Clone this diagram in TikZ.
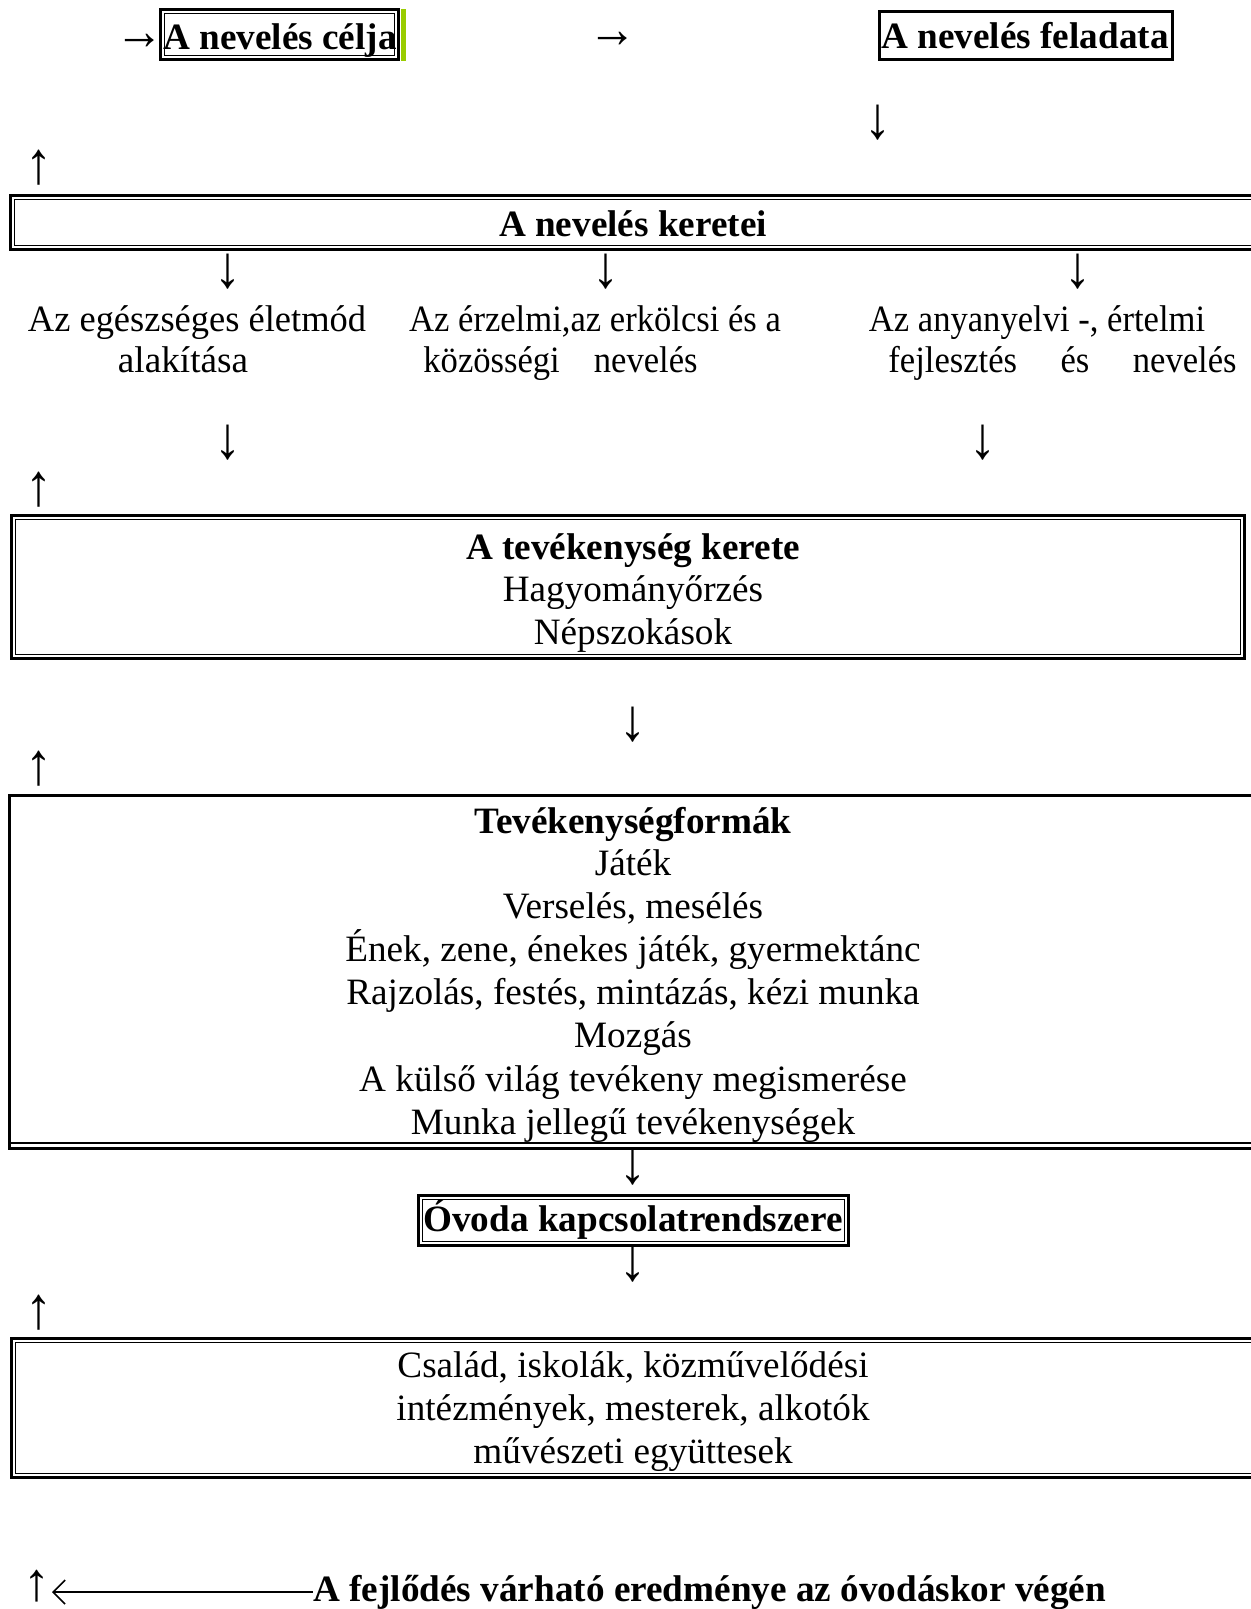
\documentclass[tikz,border=0pt]{standalone}
\usepackage{fontspec}
\usepackage{graphicx}
\setmainfont{Liberation Serif}
\usetikzlibrary{arrows.meta}
\definecolor{lgreen}{RGB}{153,204,0}
\newcommand{\vglyph}[1]{\scalebox{1.45}[1.6]{#1}}
\newcommand{\hglyph}[1]{\scalebox{1.3}[1.45]{#1}}
\newcommand{\narrow}[1]{\scalebox{0.93}[1]{#1}}
\begin{document}
\begin{tikzpicture}[x=0.5pt,y=-0.5pt,
  txt/.style={font=\fontsize{18.6}{21.5}\selectfont, inner sep=0pt, anchor=base},
  btxt/.style={font=\fontsize{18.6}{21.5}\selectfont\bfseries, inner sep=0pt, anchor=base},
  arr/.style={font=\fontsize{18.6}{21.5}\selectfont\bfseries, inner sep=0pt, anchor=center},
  outerline/.style={line width=1.5pt},
  innerline/.style={line width=0.5pt}]
\useasboundingbox (0,0) rectangle (1250,1609);

% --- top row ---
\node[arr] (r1) at (140,42) {\hglyph{→}};
\draw[outerline] (160,10) rectangle (398,60);
\draw[innerline] (164,14) rectangle (394,56);
\fill[lgreen] (401,9) rectangle (406,61);
\node[btxt] (celja) at (280,50) {A nevelés célja};
\node[arr] (r2) at (613,40) {\hglyph{→}};
\draw[outerline] (879,12) rectangle (1172,60);
\node[btxt] (feladata) at (1025,49) {A nevelés feladata};
\node[arr] (d1) at (878,123) {\vglyph{↓}};
\node[arr] (u1) at (39,168) {\vglyph{↑}};

% --- A nevelés keretei ---
\draw[outerline] (1260,196) -- (10,196) -- (10,250) -- (1260,250);
\draw[innerline] (1260,200) -- (14,200) -- (14,246) -- (1260,246);
\node[btxt] (keretei) at (633,237) {A nevelés keretei};
\node[arr] (d2) at (228,272) {\vglyph{↓}};
\node[arr] (d3) at (606,272) {\vglyph{↓}};
\node[arr] (d4) at (1078,272) {\vglyph{↓}};

\node[txt] (eg1) at (197,332) {\scalebox{0.98}[1]{Az egészséges életmód}};
\node[txt] (eg2) at (183,373) {alakítása};
\node[txt] (er1) at (595,332) {\narrow{Az érzelmi,az erkölcsi és a}};
\node[txt,anchor=base west] (er2a) at (423,373) {\narrow{közösségi}};
\node[txt,anchor=base east] (er2b) at (698,373) {\narrow{nevelés}};
\node[txt] (an1) at (1037,332) {\narrow{Az anyanyelvi -, értelmi}};
\node[txt,anchor=base west] (an2a) at (888,373) {\narrow{fejlesztés}};
\node[txt] (an2b) at (1075,373) {\narrow{és}};
\node[txt,anchor=base east] (an2c) at (1237,373) {\narrow{nevelés}};

\node[arr] (d5) at (228,443) {\vglyph{↓}};
\node[arr] (d6) at (983,443) {\vglyph{↓}};
\node[arr] (u2) at (39,490) {\vglyph{↑}};

% --- A tevékenység kerete ---
\draw[outerline] (11,515) rectangle (1244,658);
\draw[innerline] (15,519) rectangle (1240,654);
\node[btxt] (tk) at (633,559) {A tevékenység kerete};
\node[txt] (tk2) at (633,601) {Hagyományőrzés};
\node[txt] (tk3) at (633,644) {Népszokások};

\node[arr] (d7) at (633,725) {\vglyph{↓}};
\node[arr] (u3) at (39,769) {\vglyph{↑}};

% --- Tevékenységformák ---
\draw[outerline] (1260,795) -- (9,795) -- (9,1148) -- (1260,1148);
\draw[line width=1pt] (9,1143) -- (1260,1143);
\node[btxt] (tf) at (633,833) {Tevékenységformák};
\node[txt] (tf1) at (633,875) {Játék};
\node[txt] (tf2) at (633,918) {Verselés, mesélés};
\node[txt] (tf3) at (633,961) {Ének, zene, énekes játék, gyermektánc};
\node[txt] (tf4) at (633,1004) {Rajzolás, festés, mintázás, kézi munka};
\node[txt] (tf5) at (633,1047) {Mozgás};
\node[txt] (tf6) at (633,1091) {A külső világ tevékeny megismerése};
\node[txt] (tf7) at (633,1134) {Munka jellegű tevékenységek};

\node[arr] (d8) at (633,1168) {\vglyph{↓}};

% --- Óvoda kapcsolatrendszere ---
\draw[outerline] (418,1195) rectangle (848,1245);
\draw[innerline] (422,1199) rectangle (844,1241);
\node[btxt] (ovoda) at (633,1231) {Óvoda kapcsolatrendszere};

\node[arr] (d9) at (633,1265) {\vglyph{↓}};
\node[arr] (u4) at (39,1313) {\vglyph{↑}};

% --- Család ---
\draw[outerline] (1260,1338) -- (11,1338) -- (11,1477) -- (1260,1477);
\draw[innerline] (1260,1342) -- (15,1342) -- (15,1473) -- (1260,1473);
\node[txt] (cs1) at (633,1377) {Család, iskolák, közművelődési};
\node[txt] (cs2) at (633,1420) {intézmények, mesterek, alkotók};
\node[txt] (cs3) at (633,1463) {művészeti együttesek};

% --- bottom ---
\node[arr] (u5) at (37,1586) {\scalebox{1.45}[1.45]{↑}};
\node[btxt,anchor=base west] (fejl) at (313,1601) {A fejlődés várható eredménye az óvodáskor végén};
\coordinate (lt) at (52,1592);
\draw[line width=0.8pt, {Straight Barb[length=6pt,width=12pt]}-] (lt) -- (fejl.west |- lt);
\end{tikzpicture}
\end{document}
